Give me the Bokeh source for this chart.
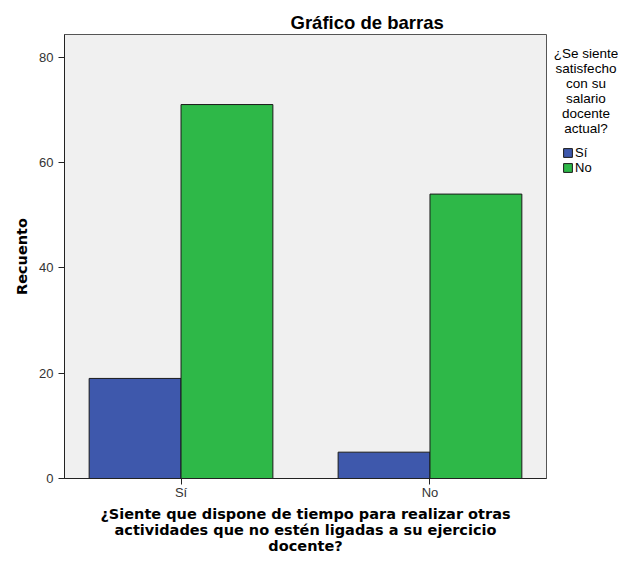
from bokeh.plotting import figure
from bokeh.models import Range1d, FixedTicker, Legend, LegendItem
from bokeh.layouts import row
from bokeh.core.properties import value
from bokeh.embed import file_html
from bokeh.resources import INLINE

# Data
categories = ["Sí", "No"]               # ¿Siente que dispone de tiempo...?
series_names = ["Sí", "No"]             # ¿Se siente satisfecho con su salario docente actual?
counts_satisfecho_si = [19, 5]
counts_satisfecho_no = [71, 54]
y_ticks = [0, 20, 40, 60, 80]
title_text = "Gráfico de barras"
legend_title = "¿Se siente\nsatisfecho\ncon su\nsalario\ndocente\nactual?"
x_label = ("¿Siente que dispone de tiempo para realizar otras\n"
           "actividades que no estén ligadas a su ejercicio\n"
           "docente?")
y_label = "Recuento"

colors = ["#3E58AC", "#2EB848"]
bar_w = 0.369

# layout constants (pixels)
W_MAIN, W_LEG, H = 548, 70, 556
B_LEFT, B_TOP, B_BOTTOM = 64, 34, 78

# ---------------- main chart ----------------
p = figure(width=W_MAIN, height=H, output_backend="svg", toolbar_location=None,
           x_range=Range1d(0.532, 2.468), y_range=Range1d(0, 84.3),
           min_border_left=B_LEFT, min_border_top=B_TOP, min_border_right=2,
           min_border_bottom=B_BOTTOM)

xs = [i + 1 for i in range(len(categories))]
p.vbar(x=[x - bar_w / 2 for x in xs], top=counts_satisfecho_si, width=bar_w,
       fill_color=colors[0], line_color="#1a1a1a", line_width=1)
p.vbar(x=[x + bar_w / 2 for x in xs], top=counts_satisfecho_no, width=bar_w,
       fill_color=colors[1], line_color="#1a1a1a", line_width=1)

p.background_fill_color = "#F0F0F0"
p.border_fill_color = "white"
p.outline_line_color = "#555555"
p.grid.visible = False

p.title.text = title_text
p.title.text_font = "Liberation Sans"
p.title.text_font_size = "18.5px"
p.title.text_font_style = "bold"
p.title.text_color = "black"
p.title.align = "left"
p.title.offset = 226
p.title.standoff = 4

p.xaxis.ticker = FixedTicker(ticks=xs)
p.xaxis.major_label_overrides = {x: c for x, c in zip(xs, categories)}
p.yaxis.ticker = FixedTicker(ticks=y_ticks)
for ax in (p.xaxis, p.yaxis):
    ax.major_tick_in = 0
    ax.major_tick_out = 6
    ax.minor_tick_line_color = None
    ax.axis_line_color = "#222222"
    ax.major_tick_line_color = "#222222"
    ax.major_label_text_font = "Liberation Sans"
    ax.major_label_text_font_size = "13px"
    ax.major_label_text_color = "#333333"
    ax.axis_label_text_font = "DejaVu Sans"
    ax.axis_label_text_font_size = "14.5px"
    ax.axis_label_text_font_style = "bold"
    ax.axis_label_text_color = "black"

p.xaxis.axis_label = x_label
p.xaxis.axis_label_text_line_height = 1.0
p.yaxis.axis_label = y_label
p.xaxis.major_label_standoff = 0
p.yaxis.major_label_standoff = 5
p.xaxis.axis_label_standoff = 3
p.yaxis.axis_label_standoff = 6

# ---------------- legend panel ----------------
frame_bottom = H - B_BOTTOM
lg = figure(width=W_LEG, height=H, output_backend="svg", toolbar_location=None,
            x_range=Range1d(W_MAIN, W_MAIN + W_LEG), y_range=Range1d(frame_bottom, B_TOP),
            min_border_left=0, min_border_right=0, min_border_top=B_TOP,
            min_border_bottom=B_BOTTOM, outline_line_color=None)
lg.axis.visible = False
lg.grid.visible = False
lg.text(x=[585.5], y=[45], text=[legend_title], text_align="center", text_baseline="top",
        text_font=value("Liberation Sans"), text_font_size="13.5px",
        text_line_height=1.0, text_color="black")
nan = float("nan")
d1 = lg.vbar(x=[nan], top=[nan], width=1, fill_color=colors[0], line_color="#1a1a1a")
d2 = lg.vbar(x=[nan], top=[nan], width=1, fill_color=colors[1], line_color="#1a1a1a")
legend = Legend(items=[LegendItem(label=series_names[0], renderers=[d1]),
                       LegendItem(label=series_names[1], renderers=[d2])],
                location=(14, frame_bottom - 175))
legend.label_text_font = "Liberation Sans"
legend.label_text_font_size = "13px"
legend.label_text_color = "black"
legend.glyph_width = 11
legend.glyph_height = 11
legend.label_height = 15
legend.spacing = 0
legend.label_standoff = 2
legend.padding = 0
legend.margin = 0
legend.border_line_color = None
legend.background_fill_alpha = 0
lg.add_layout(legend, "center")

layout = row(p, lg)
open("out.html", "w").write(file_html(layout, INLINE))
